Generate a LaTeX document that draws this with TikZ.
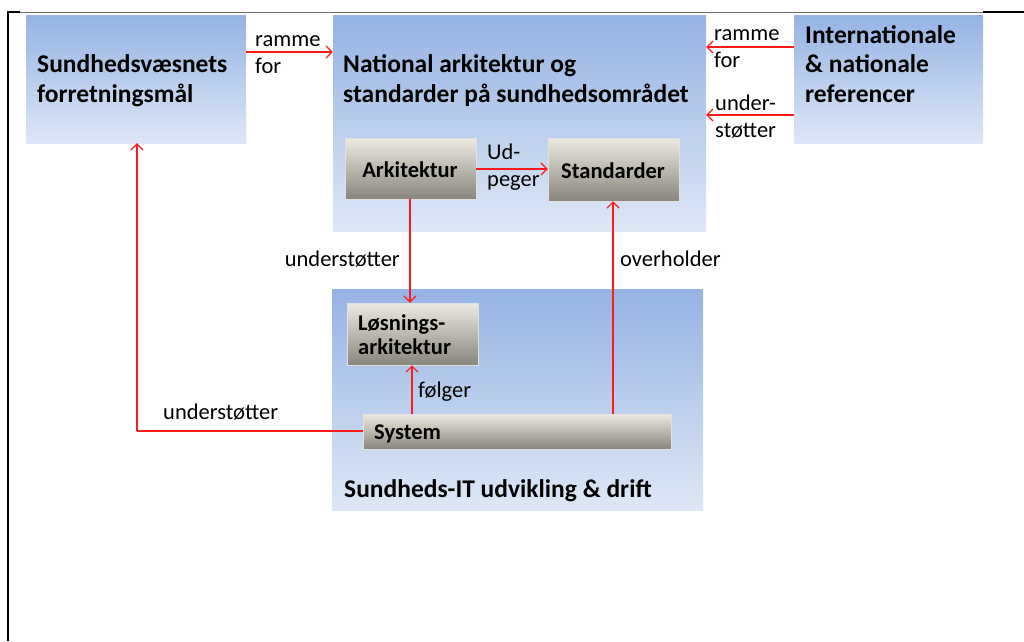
\documentclass[tikz,border=0pt]{standalone}
\usepackage{fontspec}
\setmainfont{Carlito}
\usetikzlibrary{arrows.meta}
\definecolor{bluetop}{RGB}{149,179,227}
\definecolor{bluebot}{RGB}{222,231,246}
\definecolor{greytop}{RGB}{237,235,225}
\definecolor{greymid}{RGB}{206,204,195}
\definecolor{greybot}{RGB}{135,133,124}
\definecolor{arrred}{RGB}{255,25,25}
\definecolor{rulegrey}{RGB}{110,110,110}
\begin{document}
\begin{tikzpicture}[x=1pt,y=-1pt,
  panel/.style={rectangle, inner sep=0, draw=none, top color=bluetop, bottom color=bluebot},
  part/.style={rectangle, inner sep=0, draw=white!88!black, line width=0.5pt,
    top color=greytop, middle color=greymid, bottom color=greybot},
  title/.style={font=\fontsize{25.5}{29.5}\selectfont\bfseries, align=left, inner sep=0, anchor=base west},
  parttitle/.style={font=\fontsize{22.5}{24}\selectfont\bfseries, align=left, inner sep=0, anchor=base west},
  lbl/.style={font=\fontsize{22.5}{27}\selectfont, align=left, inner sep=0, anchor=base west},
  arr/.style={draw=arrred, line width=1.2pt, -{Straight Barb[length=6pt,width=12pt]}},
  link/.style={draw=arrred, line width=1.2pt}]
\useasboundingbox (0,0) rectangle (1024,641);

% page frame
\draw[rulegrey, line width=1pt] (20,12) -- (983,12);
\draw[black, line width=2.5pt] (983,12) -- (1024,12);
\draw[black, line width=2.5pt] (20,12) -- (8,12) -- (8,641);

% blue panels
\node[panel, minimum width=220pt, minimum height=128pt] (goal) at (136,79) {};
\node[panel, minimum width=373pt, minimum height=216pt] (nat) at (519.5,123) {};
\node[panel, minimum width=189pt, minimum height=128pt] (ref) at (888.5,79) {};
\node[panel, minimum width=371pt, minimum height=221pt] (dev) at (517.5,399.5) {};

% panel titles (anchored at the baseline of their last line)
\node[title] (goalt) at (37,102) {Sundhedsvæsnets\\forretningsmål};
\node[title] (natt) at (343,102) {National arkitektur og\\standarder på sundhedsområdet};
\node[title] (reft) at (805,102) {Internationale\\\& nationale\\referencer};
\node[title] (devt) at (344,497) {Sundheds-IT udvikling \& drift};

% grey parts
\node[part, minimum width=131pt, minimum height=61pt] (ark) at (410.5,168.5) {};
\node[part, minimum width=131pt, minimum height=63pt] (std) at (613.5,169.5) {};
\node[part, minimum width=131pt, minimum height=62pt] (los) at (412.5,334) {};
\node[part, minimum width=308pt, minimum height=35pt] (sys) at (517,431.5) {};

\node[parttitle, anchor=base] (arkt) at (410,177) {Arkitektur};
\node[parttitle, anchor=base] (stdt) at (613,178) {Standarder};
\node[parttitle] (lost) at (358,354) {Løsnings-\\arkitektur};
\node[parttitle] (syst) at (374,439) {System};

% connectors
\draw[arr] (goal.east |- 0,52) -- (nat.west |- 0,52);
\node[lbl] (l1) at (255,73) {ramme\\for};

\draw[arr] (ref.west |- 0,47) -- (nat.east |- 0,47);
\node[lbl] (l2) at (714,67) {ramme\\for};

\draw[arr] (ref.west |- 0,115) -- (nat.east |- 0,115);
\node[lbl] (l3) at (715,137) {under-\\støtter};

\draw[arr] (ark.east |- 0,169) -- (std.west |- 0,169);
\node[lbl] (l4) at (487,186) {Ud-\\peger};

\draw[arr] (ark.south -| 410,0) -- (los.north -| 410,0);
\node[lbl, anchor=base east] (l5) at (400,266) {understøtter};

\draw[arr] (sys.north -| 412,0) -- (los.south -| 412,0);
\node[lbl] (l6) at (418,397) {følger};

\draw[arr] (sys.north -| 613,0) -- (std.south -| 613,0);
\node[lbl] (l7) at (620,266) {overholder};

\coordinate (bend) at (137,431);
\draw[link] (sys.west |- bend) -- (bend);
\draw[arr] (bend) -- (goal.south -| bend);
\node[lbl] (l8) at (163,419) {understøtter};
\end{tikzpicture}
\end{document}
